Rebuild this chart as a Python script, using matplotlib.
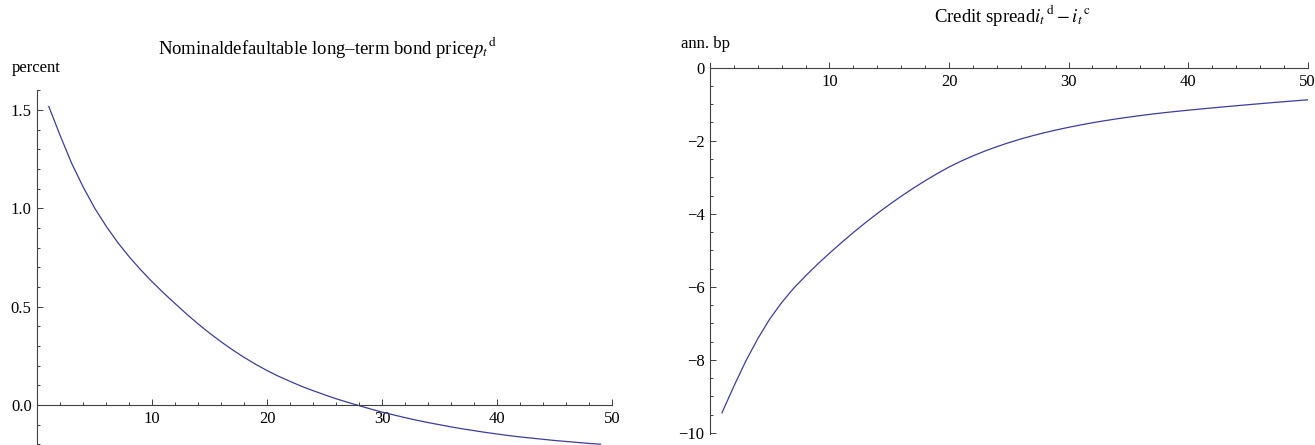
import matplotlib
matplotlib.use("Agg")
import matplotlib.pyplot as plt
from matplotlib.ticker import MultipleLocator, FixedLocator, FuncFormatter

# -----------------------------
# DATA
# -----------------------------
price_t = list(range(1, 50))
price = [1.517, 1.368, 1.227, 1.107, 1.000, 0.908, 0.826, 0.753, 0.687, 0.626,
         0.569, 0.515, 0.462, 0.412, 0.365, 0.321, 0.280, 0.242, 0.207, 0.175,
         0.146, 0.120, 0.095, 0.073, 0.052, 0.032, 0.014, -0.003, -0.020, -0.036,
         -0.050, -0.064, -0.077, -0.089, -0.100, -0.111, -0.121, -0.130, -0.139, -0.147,
         -0.155, -0.162, -0.168, -0.174, -0.180, -0.185, -0.190, -0.195, -0.199]

spread_t = list(range(1, 51))
spread = [-9.45, -8.72, -8.03, -7.42, -6.88, -6.43, -6.04, -5.70, -5.38, -5.08,
          -4.79, -4.512, -4.246, -3.992, -3.75, -3.52, -3.302, -3.096, -2.902, -2.72,
          -2.56, -2.415, -2.283, -2.163, -2.053, -1.953, -1.862, -1.779, -1.703, -1.633,
          -1.568, -1.508, -1.453, -1.402, -1.355, -1.311, -1.27, -1.232, -1.197, -1.164,
          -1.133, -1.102, -1.072, -1.043, -1.014, -0.986, -0.958, -0.931, -0.905, -0.88]

x_major = [10, 20, 30, 40, 50]
price_yticks = [0.0, 0.5, 1.0, 1.5]
spread_yticks = [0, -2, -4, -6, -8, -10]

LINE = "#3d3d99"
AXC = "#404040"

plt.rcParams["font.family"] = ["Liberation Serif", "DejaVu Serif"]
plt.rcParams["mathtext.fontset"] = "stix"

fig = plt.figure(figsize=(13.15, 4.45), dpi=100)
W, H = 1315.0, 445.0


def style(ax, yticks, yminor, yfmt):
    for s in ("top", "right"):
        ax.spines[s].set_visible(False)
    ax.spines["bottom"].set_position(("data", 0))
    for s in ("left", "bottom"):
        ax.spines[s].set_color(AXC)
        ax.spines[s].set_linewidth(0.8)
    ax.xaxis.set_major_locator(FixedLocator(x_major))
    ax.xaxis.set_minor_locator(MultipleLocator(2))
    ax.yaxis.set_major_locator(FixedLocator(yticks))
    ax.yaxis.set_minor_locator(MultipleLocator(yminor))
    ax.yaxis.set_major_formatter(FuncFormatter(yfmt))
    ax.tick_params(which="both", direction="in", color=AXC, width=0.7,
                   labelsize=12, top=False, right=False)
    ax.tick_params(which="major", length=4.5)
    ax.tick_params(which="minor", length=2.5)
    ax.tick_params(axis="x", pad=4.5)
    ax.tick_params(axis="y", pad=4)
    ax.patch.set_alpha(0)


# -----------------------------
# LEFT: bond price
# -----------------------------
ax1 = fig.add_axes([37.3 / W, 0.0, (612 - 37.3) / W, (445 - 90) / H])
ax1.plot(price_t, price, color=LINE, lw=0.9)
ax1.set_xlim(0, 50)
ax1.set_ylim(-0.203, 1.601)
style(ax1, price_yticks, 0.1, lambda v, p: f"{v:.1f}")
ax1.spines["left"].set_position(("data", 0))

fig.text(328 / W, 1 - 48 / H,
         r"Nominaldefaultable long–term bond price$p_t{}^{\,\mathrm{d}}$",
         ha="center", va="center", fontsize=13.5)
fig.text(12 / W, 1 - 68 / H, "percent", ha="left", va="center", fontsize=12)

# -----------------------------
# RIGHT: credit spread
# -----------------------------
ax2 = fig.add_axes([710 / W, (445 - 434) / H, (1307.5 - 710) / W, (434 - 62.7) / H])
ax2.plot(spread_t, spread, color=LINE, lw=0.9)
ax2.set_xlim(0, 50)
ax2.set_ylim(-10.03, 0.137)
style(ax2, spread_yticks, 0.5, lambda v, p: f"{v:.0f}".replace("-", "\u2212"))

fig.text(1012 / W, 1 - 16 / H,
         r"Credit spread$i_t{}^{\,\mathrm{d}} - i_t{}^{\,\mathrm{c}}$",
         ha="center", va="center", fontsize=13.5)
fig.text(681 / W, 1 - 44 / H, "ann. bp", ha="left", va="center", fontsize=12)

fig.savefig("out.png", dpi=100)
